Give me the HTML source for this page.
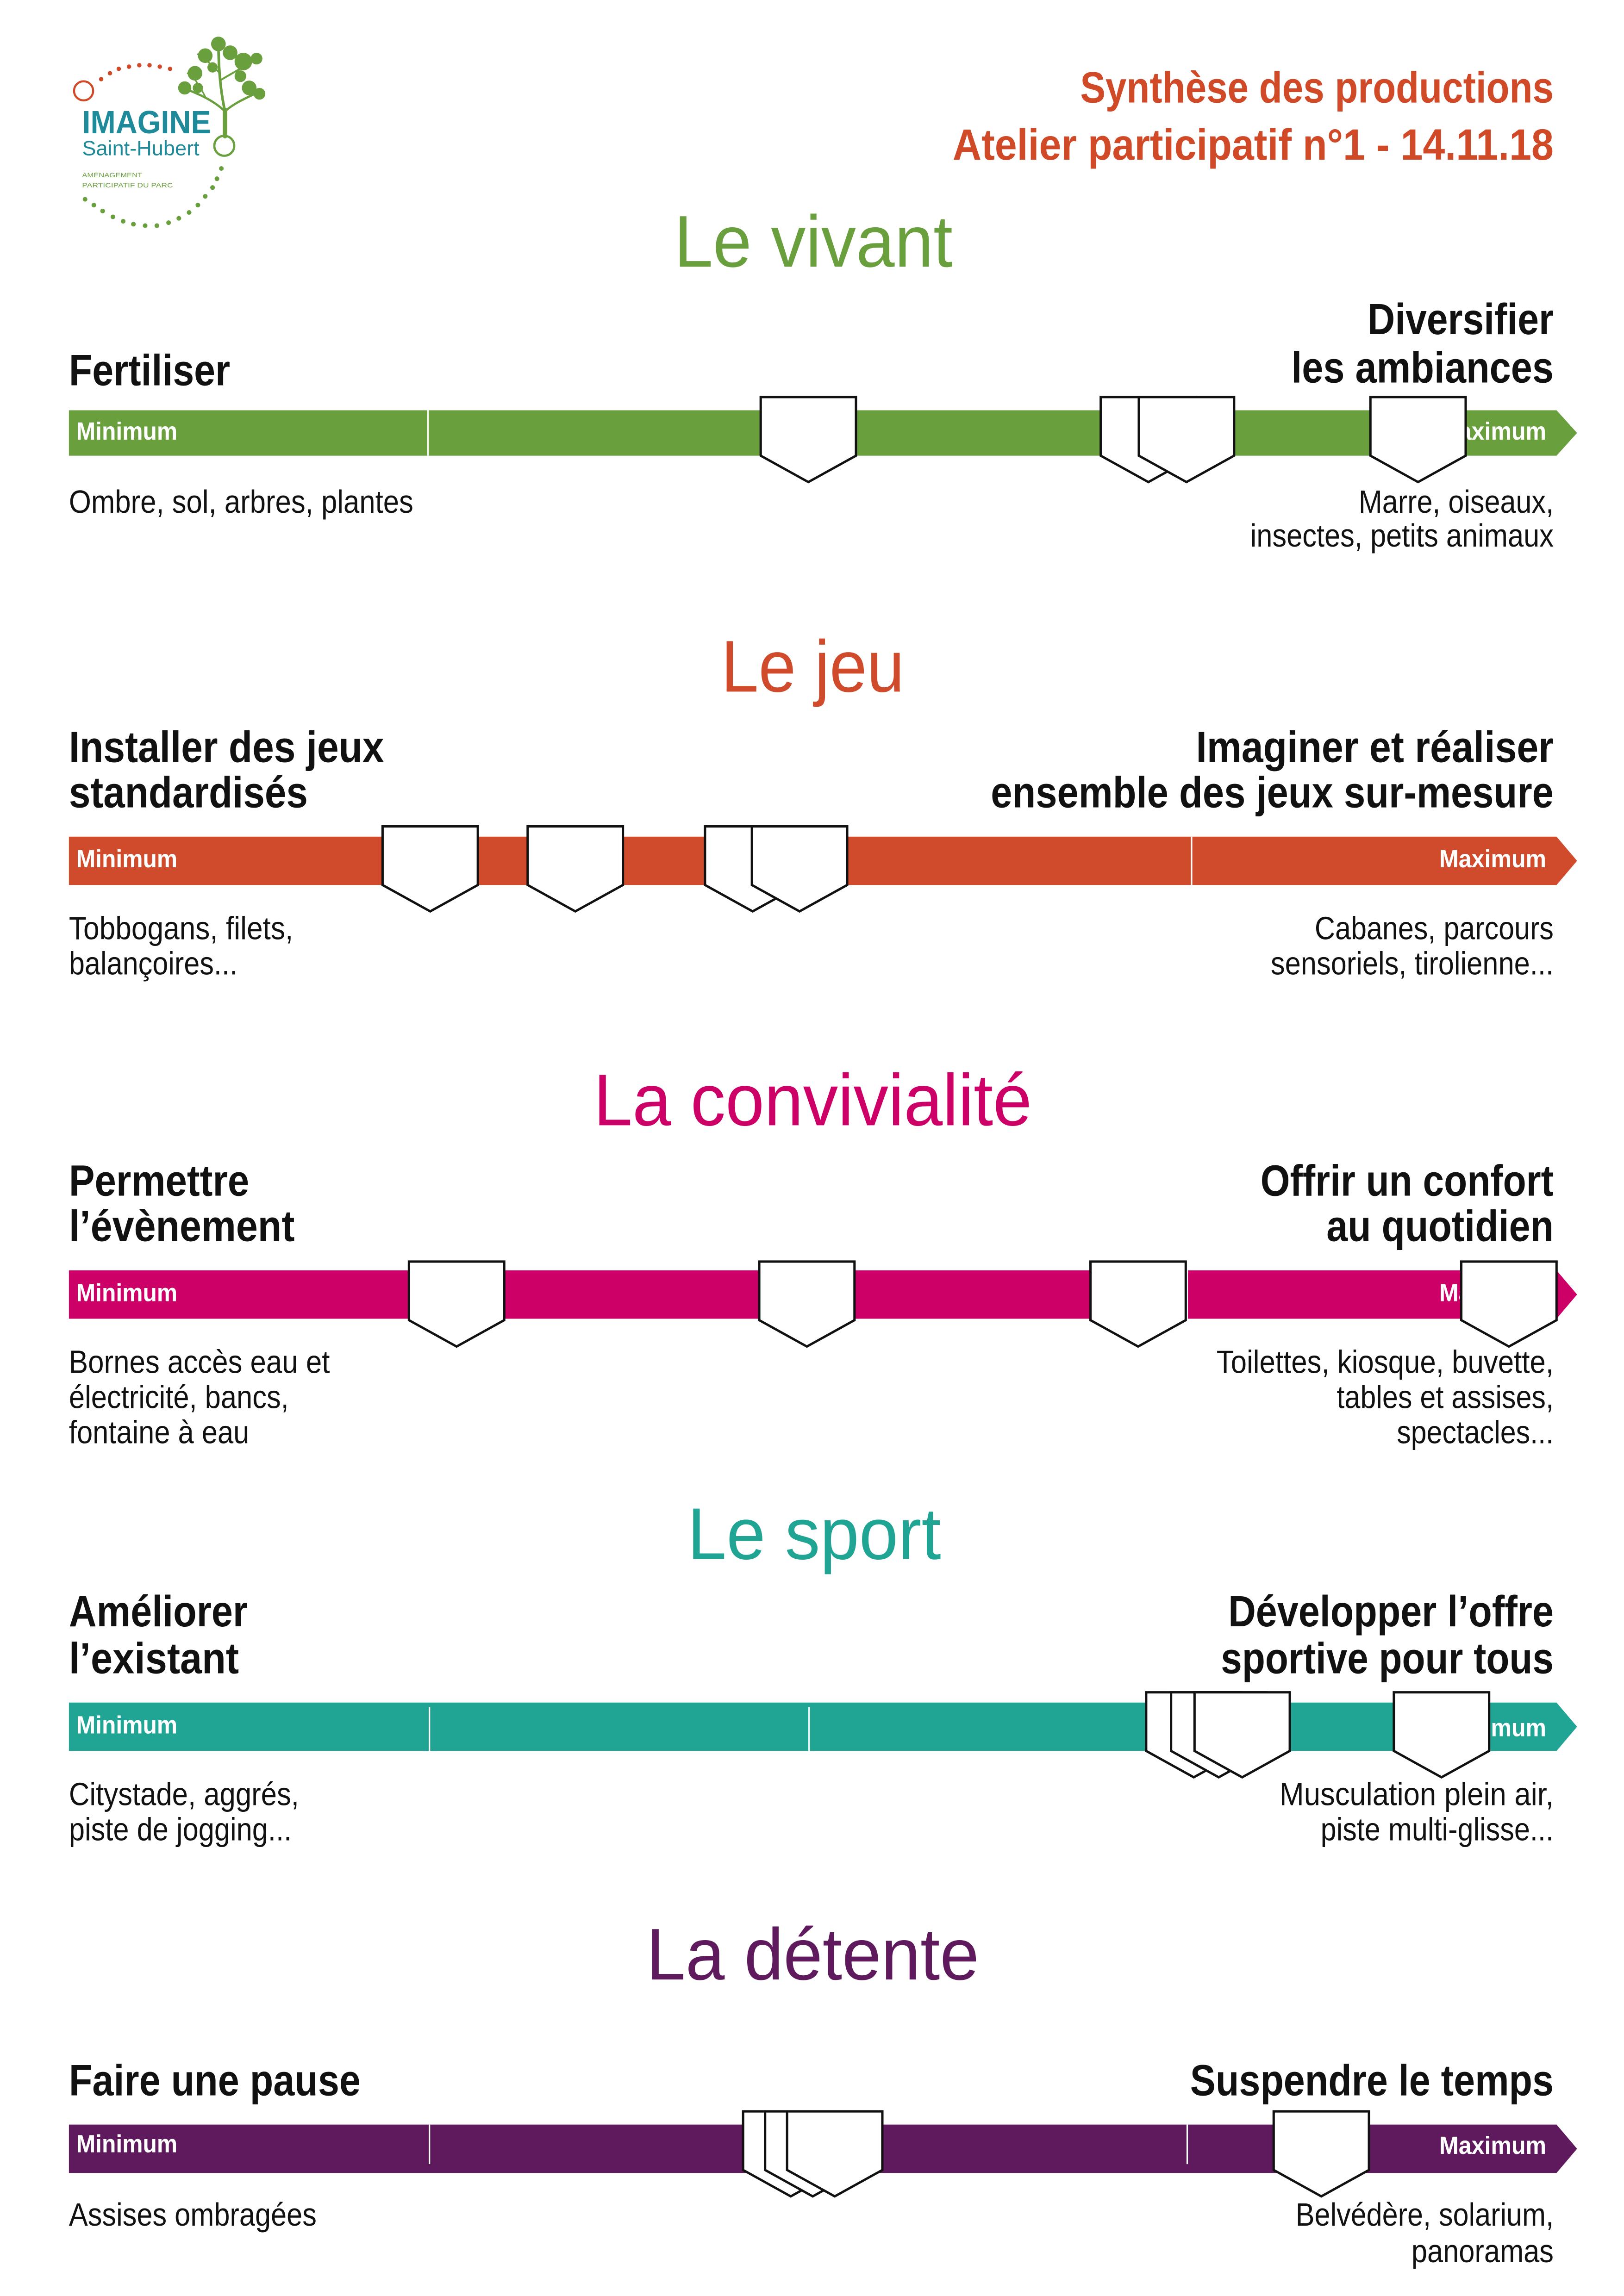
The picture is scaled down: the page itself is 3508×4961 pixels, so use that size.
<!DOCTYPE html>
<html><head><meta charset="utf-8"><style>
html,body{margin:0;padding:0;background:#fff;width:3508px;height:4961px;overflow:hidden}
svg{display:block}
.h{font-family:"Liberation Sans Narrow","Liberation Sans",sans-serif;font-weight:bold;font-size:30px;fill:#111}
.d{font-family:"Liberation Sans Narrow","Liberation Sans",sans-serif;font-size:22px;fill:#111}
.m{font-family:"Liberation Sans Narrow","Liberation Sans",sans-serif;font-weight:bold;font-size:17px;fill:#fff}
.t{font-family:"Liberation Sans",sans-serif;font-size:50px}
.mk{fill:#fff;stroke:#111;stroke-width:1.6;stroke-linejoin:miter}
</style></head><body>
<svg width="3508" height="4961" viewBox="0 0 1108 1567" xmlns="http://www.w3.org/2000/svg">
<defs>
<path id="mk" class="mk" d="M0,0 H65 V40 L32.5,58 L0,40 Z"/>
</defs>
<!-- Logo -->
<g>
<circle cx="57" cy="62" r="6.5" fill="none" stroke="#d04a28" stroke-width="1.4"/>
<g fill="#d04a28">
<circle cx="69" cy="54" r="1.5"/><circle cx="75" cy="50" r="1.5"/><circle cx="81" cy="47" r="1.5"/><circle cx="88" cy="45.5" r="1.5"/><circle cx="95" cy="44.5" r="1.5"/><circle cx="102" cy="44.5" r="1.5"/><circle cx="109" cy="45.5" r="1.5"/><circle cx="116" cy="47" r="1.5"/>
</g>
<g fill="#6a9f3e">
<circle cx="151" cy="115" r="1.6"/><circle cx="148" cy="122" r="1.6"/><circle cx="145" cy="128" r="1.6"/><circle cx="140" cy="134" r="1.6"/><circle cx="135" cy="140" r="1.6"/><circle cx="129" cy="145" r="1.6"/><circle cx="122" cy="149" r="1.6"/><circle cx="115" cy="152" r="1.6"/><circle cx="107" cy="154" r="1.6"/><circle cx="99" cy="154" r="1.6"/><circle cx="91" cy="153" r="1.6"/><circle cx="84" cy="151" r="1.6"/><circle cx="77" cy="148" r="1.6"/><circle cx="70" cy="144" r="1.6"/><circle cx="64" cy="140" r="1.6"/><circle cx="58" cy="136" r="1.6"/>
</g>
<circle cx="153" cy="99.5" r="6.8" fill="none" stroke="#6a9f3e" stroke-width="1.5"/>
<g stroke="#6a9f3e" fill="none" stroke-linecap="round">
<path d="M153.5,93 L153.5,75" stroke-width="3"/>
<path d="M153.5,76 C151,65 149,50 149,28" stroke-width="1.8"/>
<path d="M153.5,76 C145,68 135,64 125,60" stroke-width="1.5"/>
<path d="M153.5,76 C160,70 170,66 178,62" stroke-width="1.5"/>
<path d="M150,55 C158,50 168,45 175,40" stroke-width="1.3"/>
<path d="M150,50 C145,45 140,40 135,37" stroke-width="1.1"/>
<path d="M140,66 C136,58 132,52 128,50" stroke-width="1"/>
</g>
<g fill="#6a9f3e">
<circle cx="149" cy="30" r="5"/><circle cx="140" cy="38" r="5"/><circle cx="157" cy="36" r="5"/><circle cx="166" cy="42" r="6"/><circle cx="175" cy="40" r="4"/><circle cx="133" cy="50" r="5"/><circle cx="126" cy="60" r="4.5"/><circle cx="135" cy="60" r="3.5"/><circle cx="170" cy="60" r="5"/><circle cx="177" cy="64" r="4"/><circle cx="164" cy="52" r="4"/><circle cx="145" cy="46" r="3.5"/>
</g>
<text x="56" y="91" font-family="Liberation Sans,sans-serif" font-weight="bold" font-size="22" fill="#1f8a99" textLength="88" lengthAdjust="spacingAndGlyphs">IMAGINE</text>
<text x="56" y="106" font-family="Liberation Sans,sans-serif" font-size="14" fill="#1f8a99" textLength="80" lengthAdjust="spacingAndGlyphs">Saint-Hubert</text>
<text x="56" y="121" font-family="Liberation Sans,sans-serif" font-size="4.5" fill="#6a9f3e" textLength="41" lengthAdjust="spacingAndGlyphs">AMÉNAGEMENT</text>
<text x="56" y="128" font-family="Liberation Sans,sans-serif" font-size="4.5" fill="#6a9f3e" textLength="62" lengthAdjust="spacingAndGlyphs">PARTICIPATIF DU PARC</text>
</g>
<!-- Header -->
<text class="h" x="1060" y="70" text-anchor="end" fill="#d04a28" style="fill:#d04a28" textLength="323" lengthAdjust="spacingAndGlyphs">Synthèse des productions</text>
<text class="h" x="1060" y="109" text-anchor="end" style="fill:#d04a28" textLength="410" lengthAdjust="spacingAndGlyphs">Atelier participatif n°1 - 14.11.18</text>

<!-- Section 1: Le vivant -->
<text class="t" x="460" y="182" fill="#6a9f3e" textLength="190" lengthAdjust="spacingAndGlyphs">Le vivant</text>
<text class="h" x="47" y="263" textLength="110" lengthAdjust="spacingAndGlyphs">Fertiliser</text>
<text class="h" x="1060" y="228" text-anchor="end" textLength="127" lengthAdjust="spacingAndGlyphs">Diversifier</text>
<text class="h" x="1060" y="261" text-anchor="end" textLength="179" lengthAdjust="spacingAndGlyphs">les ambiances</text>
<polygon points="47,280 1062,280 1076,295.5 1062,311 47,311" fill="#6a9f3e"/>
<line x1="292" y1="280" x2="292" y2="311" stroke="#fff" stroke-width="1"/>
<text class="m" x="52" y="300" textLength="69" lengthAdjust="spacingAndGlyphs">Minimum</text>
<text class="m" x="1055" y="300" text-anchor="end" textLength="73" lengthAdjust="spacingAndGlyphs">Maximum</text>
<use href="#mk" x="519" y="271"/>
<use href="#mk" x="751" y="271"/>
<use href="#mk" x="777" y="271"/>
<use href="#mk" x="935" y="271"/>
<text class="d" x="47" y="350" textLength="235" lengthAdjust="spacingAndGlyphs">Ombre, sol, arbres, plantes</text>
<text class="d" x="1060" y="350" text-anchor="end" textLength="133" lengthAdjust="spacingAndGlyphs">Marre, oiseaux,</text>
<text class="d" x="1060" y="373" text-anchor="end" textLength="207" lengthAdjust="spacingAndGlyphs">insectes, petits animaux</text>

<!-- Section 2: Le jeu -->
<text class="t" x="492" y="472" fill="#cf4b2b" textLength="125" lengthAdjust="spacingAndGlyphs">Le jeu</text>
<text class="h" x="47" y="520" textLength="215" lengthAdjust="spacingAndGlyphs">Installer des jeux</text>
<text class="h" x="47" y="551" textLength="163" lengthAdjust="spacingAndGlyphs">standardisés</text>
<text class="h" x="1060" y="520" text-anchor="end" textLength="244" lengthAdjust="spacingAndGlyphs">Imaginer et réaliser</text>
<text class="h" x="1060" y="551" text-anchor="end" textLength="384" lengthAdjust="spacingAndGlyphs">ensemble des jeux sur-mesure</text>
<polygon points="47,571 1062,571 1076,587.5 1062,604 47,604" fill="#cf4b2b"/>
<line x1="813" y1="571" x2="813" y2="604" stroke="#fff" stroke-width="1"/>
<text class="m" x="52" y="592" textLength="69" lengthAdjust="spacingAndGlyphs">Minimum</text>
<text class="m" x="1055" y="592" text-anchor="end" textLength="73" lengthAdjust="spacingAndGlyphs">Maximum</text>
<use href="#mk" x="261" y="564"/>
<use href="#mk" x="360" y="564"/>
<use href="#mk" x="481" y="564"/>
<use href="#mk" x="513" y="564"/>
<text class="d" x="47" y="641" textLength="153" lengthAdjust="spacingAndGlyphs">Tobbogans, filets,</text>
<text class="d" x="47" y="665" textLength="115" lengthAdjust="spacingAndGlyphs">balançoires...</text>
<text class="d" x="1060" y="641" text-anchor="end" textLength="163" lengthAdjust="spacingAndGlyphs">Cabanes, parcours</text>
<text class="d" x="1060" y="665" text-anchor="end" textLength="193" lengthAdjust="spacingAndGlyphs">sensoriels, tirolienne...</text>

<!-- Section 3: La convivialité -->
<text class="t" x="405" y="768" fill="#cc0066" textLength="299" lengthAdjust="spacingAndGlyphs">La convivialité</text>
<text class="h" x="47" y="816" textLength="123" lengthAdjust="spacingAndGlyphs">Permettre</text>
<text class="h" x="47" y="847" textLength="154" lengthAdjust="spacingAndGlyphs">l’évènement</text>
<text class="h" x="1060" y="816" text-anchor="end" textLength="200" lengthAdjust="spacingAndGlyphs">Offrir un confort</text>
<text class="h" x="1060" y="847" text-anchor="end" textLength="155" lengthAdjust="spacingAndGlyphs">au quotidien</text>
<polygon points="47,867 1062,867 1076,883.5 1062,900 47,900" fill="#cc0066"/>
<line x1="810" y1="867" x2="810" y2="900" stroke="#fff" stroke-width="1"/>
<text class="m" x="52" y="888" textLength="69" lengthAdjust="spacingAndGlyphs">Minimum</text>
<text class="m" x="1055" y="888" text-anchor="end" textLength="73" lengthAdjust="spacingAndGlyphs">Maximum</text>
<use href="#mk" x="279" y="861"/>
<use href="#mk" x="518" y="861"/>
<use href="#mk" x="744" y="861"/>
<use href="#mk" x="997" y="861"/>
<text class="d" x="47" y="937" textLength="178" lengthAdjust="spacingAndGlyphs">Bornes accès eau et</text>
<text class="d" x="47" y="961" textLength="150" lengthAdjust="spacingAndGlyphs">électricité, bancs,</text>
<text class="d" x="47" y="985" textLength="123" lengthAdjust="spacingAndGlyphs">fontaine à eau</text>
<text class="d" x="1060" y="937" text-anchor="end" textLength="230" lengthAdjust="spacingAndGlyphs">Toilettes, kiosque, buvette,</text>
<text class="d" x="1060" y="961" text-anchor="end" textLength="148" lengthAdjust="spacingAndGlyphs">tables et assises,</text>
<text class="d" x="1060" y="985" text-anchor="end" textLength="107" lengthAdjust="spacingAndGlyphs">spectacles...</text>

<!-- Section 4: Le sport -->
<text class="t" x="469" y="1064" fill="#20a595" textLength="173" lengthAdjust="spacingAndGlyphs">Le sport</text>
<text class="h" x="47" y="1110" textLength="122" lengthAdjust="spacingAndGlyphs">Améliorer</text>
<text class="h" x="47" y="1142" textLength="116" lengthAdjust="spacingAndGlyphs">l’existant</text>
<text class="h" x="1060" y="1110" text-anchor="end" textLength="222" lengthAdjust="spacingAndGlyphs">Développer l’offre</text>
<text class="h" x="1060" y="1142" text-anchor="end" textLength="227" lengthAdjust="spacingAndGlyphs">sportive pour tous</text>
<polygon points="47,1162 1062,1162 1076,1178.5 1062,1195 47,1195" fill="#20a595"/>
<line x1="293" y1="1165" x2="293" y2="1195" stroke="#fff" stroke-width="1"/>
<line x1="552" y1="1165" x2="552" y2="1195" stroke="#fff" stroke-width="1"/>
<text class="m" x="52" y="1183" textLength="69" lengthAdjust="spacingAndGlyphs">Minimum</text>
<text class="m" x="1055" y="1185" text-anchor="end" textLength="73" lengthAdjust="spacingAndGlyphs">Maximum</text>
<use href="#mk" x="782" y="1155"/>
<use href="#mk" x="799" y="1155"/>
<use href="#mk" x="815" y="1155"/>
<use href="#mk" x="951" y="1155"/>
<text class="d" x="47" y="1232" textLength="157" lengthAdjust="spacingAndGlyphs">Citystade, aggrés,</text>
<text class="d" x="47" y="1256" textLength="152" lengthAdjust="spacingAndGlyphs">piste de jogging...</text>
<text class="d" x="1060" y="1232" text-anchor="end" textLength="187" lengthAdjust="spacingAndGlyphs">Musculation  plein air,</text>
<text class="d" x="1060" y="1256" text-anchor="end" textLength="159" lengthAdjust="spacingAndGlyphs">piste multi-glisse...</text>

<!-- Section 5: La détente -->
<text class="t" x="441" y="1351" fill="#5e1a5c" textLength="227" lengthAdjust="spacingAndGlyphs">La détente</text>
<text class="h" x="47" y="1430" textLength="199" lengthAdjust="spacingAndGlyphs">Faire une pause</text>
<text class="h" x="1060" y="1430" text-anchor="end" textLength="248" lengthAdjust="spacingAndGlyphs">Suspendre le temps</text>
<polygon points="47,1450 1062,1450 1076,1466.5 1062,1483 47,1483" fill="#5e1a5c"/>
<line x1="293" y1="1450" x2="293" y2="1477" stroke="#fff" stroke-width="1"/>
<line x1="810" y1="1450" x2="810" y2="1477" stroke="#fff" stroke-width="1"/>
<text class="m" x="52" y="1469" textLength="69" lengthAdjust="spacingAndGlyphs">Minimum</text>
<text class="m" x="1055" y="1470" text-anchor="end" textLength="73" lengthAdjust="spacingAndGlyphs">Maximum</text>
<use href="#mk" x="507" y="1441"/>
<use href="#mk" x="522" y="1441"/>
<use href="#mk" x="537" y="1441"/>
<use href="#mk" x="869" y="1441"/>
<text class="d" x="47" y="1519" textLength="169" lengthAdjust="spacingAndGlyphs">Assises ombragées</text>
<text class="d" x="1060" y="1519" text-anchor="end" textLength="176" lengthAdjust="spacingAndGlyphs">Belvédère, solarium,</text>
<text class="d" x="1060" y="1544" text-anchor="end" textLength="97" lengthAdjust="spacingAndGlyphs">panoramas</text>
</svg>
</body></html>
